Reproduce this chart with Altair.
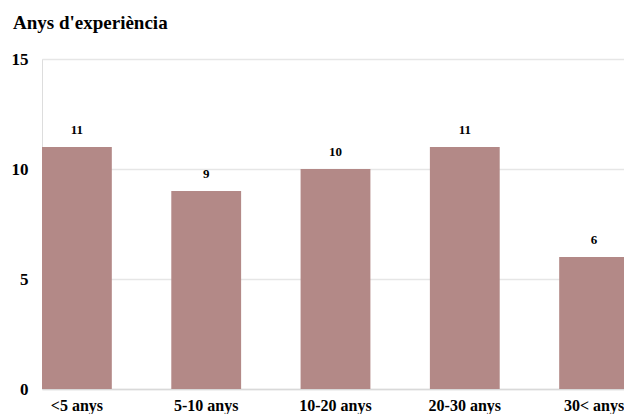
import altair as alt
import pandas as pd

categories = ["<5 anys", "5-10 anys", "10-20 anys", "20-30 anys", "30< anys"]
values = [11, 9, 10, 11, 6]

df = pd.DataFrame({"cat": categories, "val": values})

FONT = "Liberation Serif, Times New Roman, serif"
BAR = "#b38987"

x = alt.X("cat:N", sort=categories, title=None,
          scale=alt.Scale(paddingInner=0.46, paddingOuter=0, range=[0, 587]),
          axis=alt.Axis(labelAngle=0, ticks=False, tickSize=0, labelPadding=8,
                        labelFont=FONT, labelFontSize=16, labelFontWeight="bold",
                        labelColor="#000000", domain=True, domainColor="#d9d9d9",
                        domainWidth=1.5, grid=False))
y = alt.Y("val:Q", title=None,
          scale=alt.Scale(domain=[0, 15], nice=False),
          axis=alt.Axis(values=[0, 5, 10, 15], ticks=False, tickSize=0, domain=False,
                        labelPadding=14, labelFont=FONT, labelFontSize=17,
                        labelFontWeight="bold", labelColor="#000000",
                        gridColor="#e6e6e6", gridWidth=1.5))

bars = alt.Chart(df).mark_bar(color=BAR).encode(x=x, y=y)
labels = alt.Chart(df).mark_text(font=FONT, fontSize=13, fontWeight="bold",
                                 baseline="bottom", dy=-10, color="#000000").encode(
    x=alt.X("cat:N", sort=categories), y=alt.Y("val:Q"), text="val:Q")

chart = (bars + labels).properties(
    width=582, height=330,
    title=alt.TitleParams("Anys d'experiència", font=FONT, fontSize=19,
                          fontWeight="bold", color="#000000", anchor="start",
                          frame="bounds", offset=17, dx=2),
    autosize=alt.AutoSizeParams(type="none"),
    padding={"left": 42, "top": 59, "right": 0, "bottom": 25},
).configure_view(stroke=None).configure(background="#ffffff")

chart.save("out.html", embed_options={"renderer": "svg", "actions": False})
